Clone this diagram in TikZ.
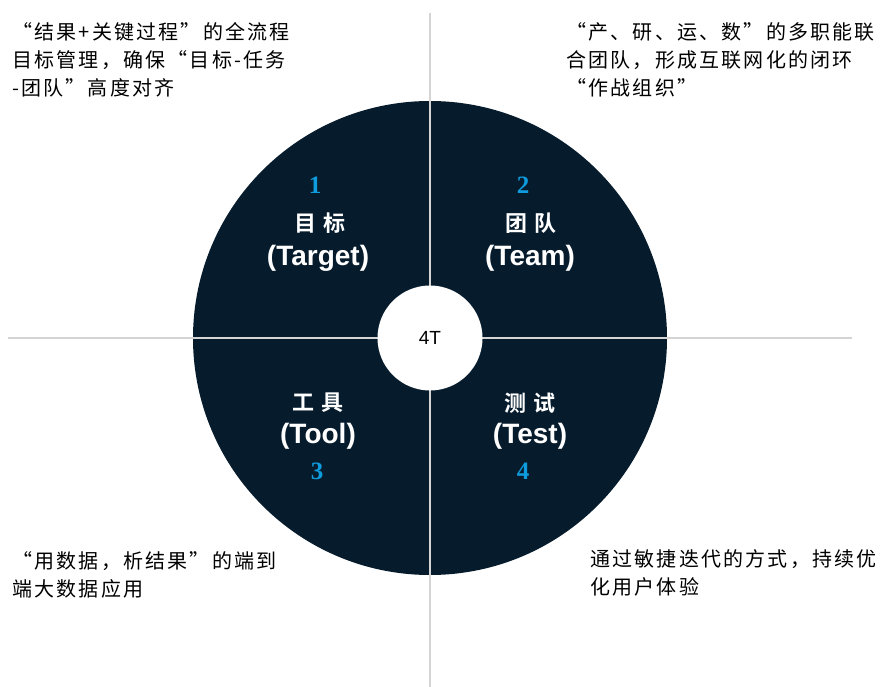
\documentclass[tikz,border=0pt]{standalone}
\usepackage{fontspec}
\setmainfont{Liberation Sans}
\newfontfamily\cjk[LetterSpace=11]{Noto Sans CJK SC}
\newfontfamily\cjklabel{Noto Sans CJK SC Bold}
\newfontfamily\numfont{Liberation Serif Bold}
\definecolor{navy}{HTML}{061C2D}
\definecolor{numblue}{RGB}{14,156,222}
\definecolor{axisgray}{HTML}{D4D4D4}
\tikzset{
  desc/.style={inner sep=0pt, anchor=west, align=left,
    font=\cjk\fontsize{20pt}{28pt}\selectfont, text=black},
  quadnum/.style={inner sep=0pt, text=numblue,
    font=\numfont\fontsize{25pt}{25pt}\selectfont},
  quadcn/.style={inner sep=0pt, text=white,
    font=\cjklabel\fontsize{22pt}{22pt}\selectfont},
  quaden/.style={inner sep=0pt, text=white,
    font=\bfseries\fontsize{28pt}{28pt}\selectfont},
  axis/.style={draw=axisgray, line width=1.5pt},
}
\begin{document}
\begin{tikzpicture}[x=1pt,y=-1pt]
\useasboundingbox (0,0) rectangle (884,687);
% outer dark disc
\node[circle, fill=navy, minimum size=474pt, inner sep=0pt] (disc) at (430,338) {};
% axis lines
\coordinate (vtop) at (430,13);
\coordinate (vbot) at (430,687);
\coordinate (hleft) at (8,338);
\coordinate (hright) at (852,338);
\draw[axis] (vtop) -- (vbot);
\draw[axis] (hleft) -- (hright);
% center white disc
\node[circle, fill=white, minimum size=105pt, inner sep=0pt,
  font=\fontsize{19pt}{19pt}\selectfont] (hub) at (430,338) {4T};
% quadrant labels
\node[quadnum] (n1) at (315,185) {1};
\node[quadcn] (c1) at (320,223) {目\hspace{8pt}标};
\node[quaden] (e1) at (318,258) {(Target)};
\node[quadnum] (n2) at (523,185) {2};
\node[quadcn] (c2) at (531,223) {团\hspace{8pt}队};
\node[quaden] (e2) at (530,258) {(Team)};
\node[quadcn] (c3) at (318,403) {工\hspace{8pt}具};
\node[quaden] (e3) at (318,436) {(Tool)};
\node[quadnum] (n3) at (317,471) {3};
\node[quadcn] (c4) at (530,403) {测\hspace{8pt}试};
\node[quaden] (e4) at (530,436) {(Test)};
\node[quadnum] (n4) at (523,471) {4};
% descriptions
\node[desc] (d1) at (12,60) {“结果+关键过程”的全流程\\目标管理，确保“目标-任务\\-团队”高度对齐};
\node[desc] (d2) at (566,60) {“产、研、运、数”的多职能联\\合团队，形成互联网化的闭环\\“作战组织”};
\node[desc] (d3) at (12,575) {“用数据，析结果”的端到\\端大数据应用};
\node[desc] (d4) at (590,573) {通过敏捷迭代的方式，持续优\\化用户体验};
\end{tikzpicture}
\end{document}
